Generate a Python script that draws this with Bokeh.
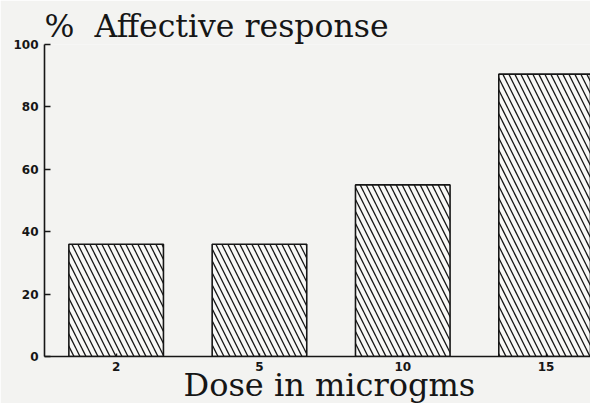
from bokeh.plotting import figure
from bokeh.models import FixedTicker, Range1d, Title
from bokeh.embed import file_html
from bokeh.resources import INLINE

# Data
doses = ["2", "5", "10", "15"]
response = [36, 36, 55, 90.5]
y_ticks = [0, 20, 40, 60, 80, 100]
title_text = "%\u00a0\u00a0Affective response"
x_label = "Dose in microgms"

x_pos = list(range(len(doses)))

W, H = 590, 403
BG = "#f3f3f1"
INK = "#161616"

p = figure(width=W, height=H, output_backend="svg", toolbar_location=None,
           x_range=Range1d(-0.5, 3.31), y_range=Range1d(0, 100),
           min_border_left=44, min_border_right=0, min_border_top=44,
           min_border_bottom=47)
p.background_fill_color = BG
p.border_fill_color = BG
p.outline_line_color = None
p.xgrid.grid_line_color = None
p.ygrid.grid_line_color = None

p.vbar(x=x_pos, top=response, width=0.66, bottom=0,
       fill_color="#f8f8f6", line_color=INK, line_width=1.6,
       hatch_pattern="\\", hatch_color=INK, hatch_scale=12, hatch_weight=1.3)

# title
p.title.text = title_text
p.title.text_font = "DejaVu Serif"
p.title.text_font_size = "31.5px"
p.title.text_font_style = "normal"
p.title.text_color = INK
p.title.align = "left"
p.title.offset = 0
p.title.standoff = 1

# axes
p.xaxis.ticker = FixedTicker(ticks=x_pos)
p.xaxis.major_label_overrides = {i: d for i, d in zip(x_pos, doses)}
p.yaxis.ticker = FixedTicker(ticks=y_ticks)
for ax in (p.xaxis[0], p.yaxis[0]):
    ax.axis_line_color = INK
    ax.axis_line_width = 1.6
    ax.major_tick_line_color = INK
    ax.major_tick_line_width = 1.4
    ax.minor_tick_line_color = None
    ax.major_label_text_font = "DejaVu Sans"
    ax.major_label_text_font_style = "bold"
    ax.major_label_text_font_size = "12px"
    ax.major_label_text_color = INK
    ax.major_tick_out = 0
p.yaxis.major_tick_in = 6
p.yaxis.major_label_standoff = 6
p.xaxis.major_tick_in = 3
p.xaxis.major_label_standoff = 5

# x-axis label as a left-aligned title below the axis
xl = Title(text=x_label, align="left", offset=139, standoff=-20,
           vertical_align="bottom", text_font="DejaVu Serif",
           text_font_size="32px", text_font_style="normal", text_color=INK)
p.add_layout(xl, "below")

open("out.html", "w").write(file_html(p, INLINE))
